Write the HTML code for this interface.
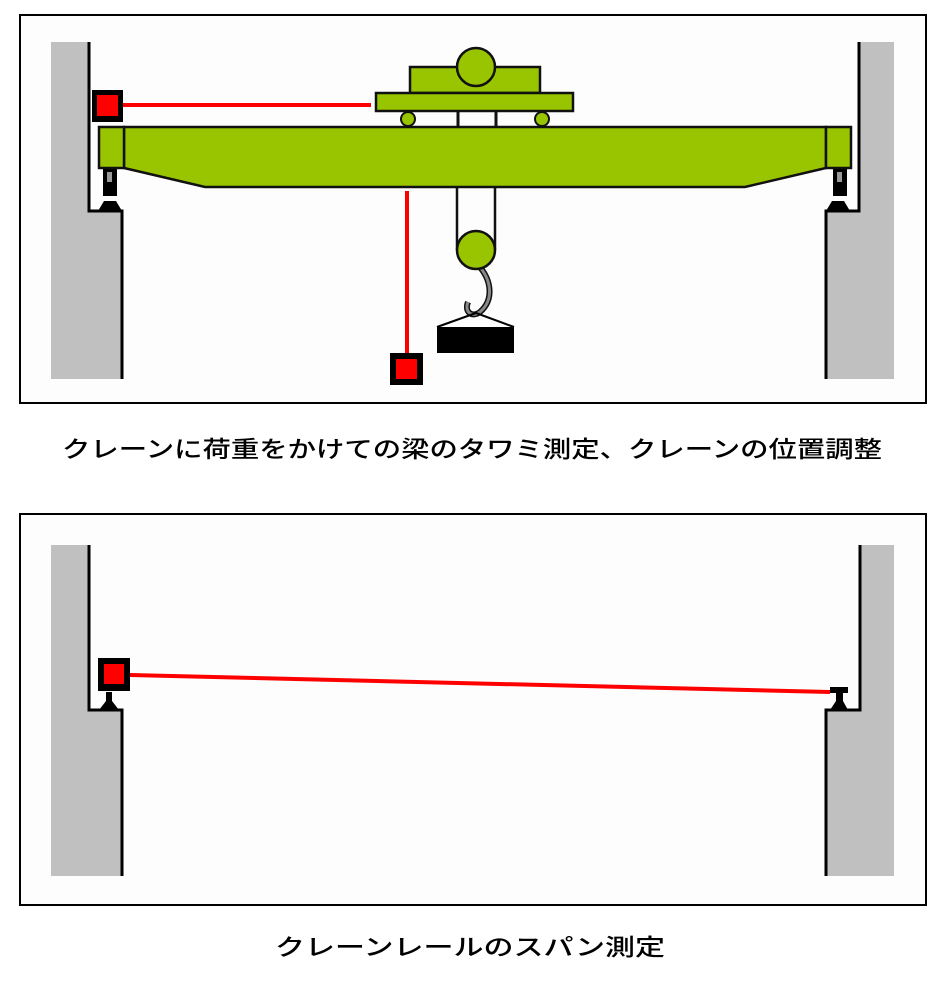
<!DOCTYPE html>
<html><head><meta charset="utf-8"><style>
html,body{margin:0;padding:0;background:#fff;}
svg{display:block}
text{font-family:"Noto Sans CJK JP","Liberation Sans",sans-serif;font-size:23px;font-weight:500;fill:#000}
</style></head><body>
<svg width="944" height="1004" viewBox="0 0 944 1004" xmlns="http://www.w3.org/2000/svg">
<rect x="0" y="0" width="944" height="1004" fill="#fff"/>
<!-- top panel -->
<rect x="20" y="15" width="906" height="388" fill="#fdfdfd" stroke="#000" stroke-width="2"/>
<path d="M51 42 H89 V211 H122 V379 H51 Z" fill="#c0c0c0"/>
<path d="M89 42 V211 H122 V379" fill="none" stroke="#000" stroke-width="3"/>
<path d="M894 42 H859 V211 H826 V379 H894 Z" fill="#c0c0c0"/>
<path d="M859 42 V211 H826 V379" fill="none" stroke="#000" stroke-width="3"/>
<!-- rails top -->
<path d="M98 211 L104 201 H116 L122 211 Z" fill="#000"/>
<path d="M826 211 L832 201 H844 L850 211 Z" fill="#000"/>
<!-- end wheels -->
<rect x="103" y="168" width="14" height="28" fill="#000"/><rect x="107" y="172" width="5" height="10" fill="#999"/>
<rect x="833" y="168" width="14" height="28" fill="#000"/><rect x="837" y="172" width="5" height="10" fill="#999"/>
<!-- beam -->
<path d="M124 127 H826 V168 L745 187 H205 L124 168 Z" fill="#99c400" stroke="#111" stroke-width="2.5"/>
<rect x="99" y="127" width="25" height="41" fill="#99c400" stroke="#111" stroke-width="2.5"/>
<rect x="826" y="127" width="25" height="41" fill="#99c400" stroke="#111" stroke-width="2.5"/>
<!-- trolley -->
<line x1="458" y1="112" x2="458" y2="127" stroke="#111" stroke-width="3"/>
<line x1="496" y1="112" x2="496" y2="127" stroke="#111" stroke-width="3"/>
<circle cx="408" cy="119" r="7" fill="#99c400" stroke="#111" stroke-width="2"/>
<circle cx="542" cy="119" r="7" fill="#99c400" stroke="#111" stroke-width="2"/>
<rect x="410" y="67" width="130" height="26" fill="#99c400" stroke="#111" stroke-width="2.5"/>
<circle cx="476" cy="67" r="19" fill="#99c400" stroke="#111" stroke-width="2.5"/>
<rect x="376" y="93" width="197" height="18" fill="#99c400" stroke="#111" stroke-width="2.5"/>
<!-- ropes & pulley -->
<line x1="457" y1="187" x2="457" y2="250" stroke="#111" stroke-width="2.5"/>
<line x1="495" y1="187" x2="495" y2="250" stroke="#111" stroke-width="2.5"/>
<path d="M478 265 C492 280 494 300 480 312 C472 318 464 312 468 302" fill="none" stroke="#111" stroke-width="6"/>
<path d="M478 265 C492 280 494 300 480 312 C472 318 464 312 468 302" fill="none" stroke="#888" stroke-width="3"/>
<circle cx="476" cy="250" r="19" fill="#99c400" stroke="#111" stroke-width="2.5"/>
<path d="M437 327 L476 313 L514 327" fill="none" stroke="#000" stroke-width="2"/>
<rect x="437" y="327" width="77" height="26" fill="#000"/>
<!-- red measure -->
<line x1="123" y1="105" x2="371" y2="105" stroke="#f00" stroke-width="4"/>
<rect x="92" y="90" width="31" height="32" fill="#000"/><rect x="97" y="95" width="21" height="21" fill="#f00"/>
<line x1="407" y1="191" x2="407" y2="354" stroke="#f00" stroke-width="4"/>
<rect x="390" y="353" width="33" height="32" fill="#000"/><rect x="396" y="359" width="21" height="20" fill="#f00"/>
<text x="62" y="457" textLength="820" lengthAdjust="spacingAndGlyphs">クレーンに荷重をかけての梁のタワミ測定、クレーンの位置調整</text>
<!-- bottom panel -->
<rect x="20" y="514" width="906" height="391" fill="#fdfdfd" stroke="#000" stroke-width="2"/>
<path d="M51 545 H89 V710 H122 V876 H51 Z" fill="#c0c0c0"/>
<path d="M89 545 V710 H122 V876" fill="none" stroke="#000" stroke-width="3"/>
<path d="M894 545 H860 V710 H826 V876 H894 Z" fill="#c0c0c0"/>
<path d="M860 545 V710 H826 V876" fill="none" stroke="#000" stroke-width="3"/>
<path d="M99 710 L106 701 V692 H112 V701 L119 710 Z" fill="#000"/>
<path d="M830 710 L836 701 V693 H830 V687 H848 V693 H843 V701 L848 710 Z" fill="#000"/>
<line x1="130" y1="675" x2="830" y2="692" stroke="#f00" stroke-width="4"/>
<rect x="98" y="658" width="32" height="33" fill="#000"/><rect x="104" y="664" width="20" height="20" fill="#f00"/>
<text x="275" y="955" textLength="390" lengthAdjust="spacingAndGlyphs">クレーンレールのスパン測定</text>
</svg>
</body></html>
